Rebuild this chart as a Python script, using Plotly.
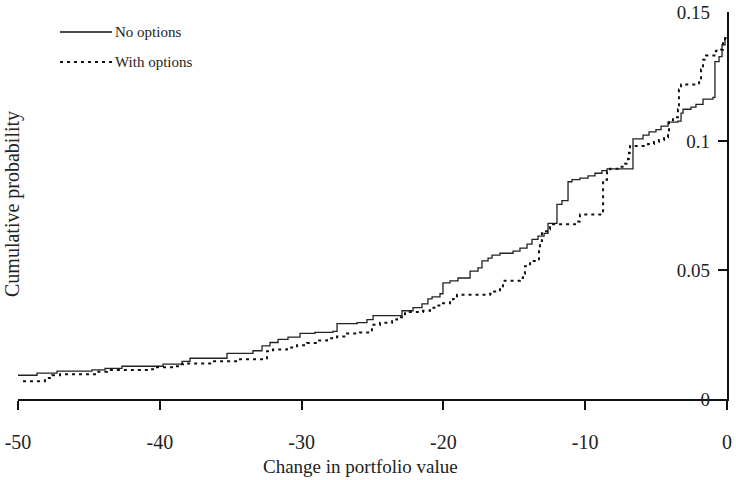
import plotly.graph_objects as go

# ---- data ----
no_opt_x = [-50.0, -48.66, -47.25, -44.78, -43.86, -42.67, -39.77, -38.43, -37.87, -35.26,
            -33.43, -32.79, -32.23, -31.66, -30.96, -30.11, -29.06, -27.79, -27.5, -26.09,
            -25.39, -24.96, -22.92, -22.14, -21.51, -21.09, -20.8, -20.24, -20.03, -19.53,
            -18.97, -18.12, -17.56, -17.28, -16.85, -16.57, -16.01, -15.09, -14.6, -14.1,
            -13.75, -13.33, -12.9, -12.62, -11.99, -11.64, -11.21, -10.93, -10.37, -9.8,
            -9.31, -8.82, -8.46, -6.63, -5.92, -5.5, -5.01, -4.65, -4.16, -3.46,
            -3.24, -3.1, -2.54, -2.19, -1.69, -0.99, -0.85, -0.56, -0.35, -0.14, 0.0]
no_opt_y = [0.0092, 0.0100, 0.0108, 0.0113, 0.0119, 0.0127, 0.0135, 0.0146, 0.0158, 0.0177,
            0.0187, 0.0206, 0.0219, 0.0231, 0.0240, 0.0254, 0.0258, 0.0262, 0.0292, 0.0296,
            0.0308, 0.0323, 0.0342, 0.0354, 0.0369, 0.0388, 0.0396, 0.0408, 0.0450, 0.0458,
            0.0469, 0.0496, 0.0508, 0.0535, 0.0546, 0.0558, 0.0565, 0.0573, 0.0585, 0.0600,
            0.0619, 0.0631, 0.0642, 0.0681, 0.0754, 0.0769, 0.0842, 0.0850, 0.0856, 0.0865,
            0.0875, 0.0885, 0.0892, 0.1008, 0.1023, 0.1035, 0.1044, 0.1058, 0.1073, 0.1077,
            0.1108, 0.1123, 0.1131, 0.1142, 0.1162, 0.1169, 0.1308, 0.1327, 0.1373, 0.1400, 0.1400]

with_opt_x = [-49.65, -48.1, -47.6, -47.04, -44.43, -43.72, -40.69, -40.48, -38.93, -38.72,
              -38.36, -36.3, -34.5, -32.44, -32.02, -31.03, -30.32, -29.62, -28.91, -28.21,
              -27.5, -26.8, -25.88, -25.04, -24.47, -23.62, -23.27, -22.71, -21.44, -20.94,
              -20.45, -20.03, -19.53, -19.32, -19.04, -16.71, -16.5, -16.01, -15.8, -14.6,
              -14.39, -14.25, -13.89, -13.4, -13.26, -13.19, -13.05, -12.69, -12.48, -10.58,
              -10.37, -8.74, -8.46, -8.25, -7.55, -7.19, -6.98, -6.91, -6.84, -5.57,
              -5.15, -4.8, -4.44, -4.16, -4.09, -3.81, -3.46, -3.39, -3.24, -1.97,
              -1.83, -1.69, -1.48, -0.78, -0.42, -0.28, -0.14, 0.0]
with_opt_y = [0.0069, 0.0081, 0.0092, 0.0096, 0.0106, 0.0112, 0.0115, 0.0123, 0.0127, 0.0135,
              0.0138, 0.0146, 0.0154, 0.0185, 0.0192, 0.0200, 0.0208, 0.0217, 0.0227, 0.0235,
              0.0242, 0.0254, 0.0258, 0.0288, 0.0296, 0.0308, 0.0317, 0.0337, 0.0342, 0.0354,
              0.0362, 0.0371, 0.0379, 0.0388, 0.0404, 0.0408, 0.0417, 0.0431, 0.0458, 0.0469,
              0.0485, 0.0515, 0.0535, 0.0542, 0.0581, 0.0612, 0.0650, 0.0658, 0.0677, 0.0688,
              0.0715, 0.0850, 0.0881, 0.0892, 0.0900, 0.0912, 0.0931, 0.0954, 0.0981, 0.0988,
              0.0996, 0.1004, 0.1015, 0.1035, 0.1073, 0.1092, 0.1123, 0.1200, 0.1219, 0.1238,
              0.1277, 0.1315, 0.1331, 0.1350, 0.1354, 0.1388, 0.1408, 0.1408]

x_ticks = [-50, -40, -30, -20, -10, 0]
x_tick_text = ["-50", "-40", "-30", "-20", "-10", "0"]
y_ticks = [0, 0.05, 0.1, 0.15]
y_tick_text = ["0", "0.05", "0.1", "0.15"]
series_names = ["No options", "With options"]

FONT = "Liberation Serif"
W, H = 736, 480
ML, MR, MT, MB = 18, 9, 12, 81
PW, PH = W - ML - MR, H - MT - MB

fig = go.Figure()
fig.add_trace(go.Scatter(x=no_opt_x, y=no_opt_y, mode="lines", line_shape="hv",
                         name=series_names[0], showlegend=False,
                         line=dict(color="#222222", width=1.3)))
fig.add_trace(go.Scatter(x=with_opt_x, y=with_opt_y, mode="lines", line_shape="hv",
                         name=series_names[1], showlegend=False,
                         line=dict(color="#111111", width=2, dash="3px,4px")))

def px2paper_x(px):
    return (px - ML) / PW

def py2paper_y(py):
    return (H - MB - py) / PH

# manual legend
shapes = []
annotations = []
for i, (name, dash, wd) in enumerate([(series_names[0], "solid", 1.3), (series_names[1], "3px,4px", 2)]):
    yy = py2paper_y(32 + 30 * i)
    shapes.append(dict(type="line", xref="paper", yref="paper",
                       x0=px2paper_x(60), x1=px2paper_x(112), y0=yy, y1=yy,
                       line=dict(color="#111111", width=wd, dash=dash)))
    annotations.append(dict(text=name, xref="paper", yref="paper", x=px2paper_x(113), y=yy,
                            xanchor="left", yanchor="middle", showarrow=False,
                            font=dict(family=FONT, size=15, color="#222222")))

# axis titles
annotations.append(dict(text="Change in portfolio value", xref="paper", yref="paper",
                        x=px2paper_x(360), y=py2paper_y(466), xanchor="center", yanchor="middle",
                        showarrow=False, font=dict(family=FONT, size=19, color="#222222")))
annotations.append(dict(text="Cumulative probability", xref="paper", yref="paper",
                        x=px2paper_x(12), y=py2paper_y(204), xanchor="center", yanchor="middle",
                        textangle=-90, showarrow=False,
                        font=dict(family=FONT, size=20, color="#222222")))

fig.update_layout(
    width=W, height=H,
    margin=dict(l=ML, r=MR, t=MT, b=MB, pad=0, autoexpand=False),
    paper_bgcolor="white", plot_bgcolor="white",
    shapes=shapes, annotations=annotations,
    font=dict(family=FONT, color="#222222"),
    xaxis=dict(range=[-50, 0], tickvals=x_ticks, ticktext=x_tick_text, automargin=False,
               showgrid=False, zeroline=False, showline=True, linecolor="#111111", linewidth=1.6,
               ticks="outside", ticklen=9, tickwidth=1.6, tickcolor="#111111",
               ticklabelstandoff=15, tickfont=dict(family=FONT, size=20, color="#222222")),
    yaxis=dict(range=[0, 0.15], tickvals=y_ticks, ticktext=y_tick_text, side="right",
               automargin=False,
               showgrid=False, zeroline=False, showline=True, linecolor="#111111", linewidth=1.6,
               ticks="inside", ticklen=9, tickwidth=1.6, tickcolor="#111111",
               ticklabelposition="inside", ticklabeloverflow="allow", ticklabelstandoff=9,
               tickfont=dict(family=FONT, size=19, color="#222222")),
)

fig.write_html("out.html")
